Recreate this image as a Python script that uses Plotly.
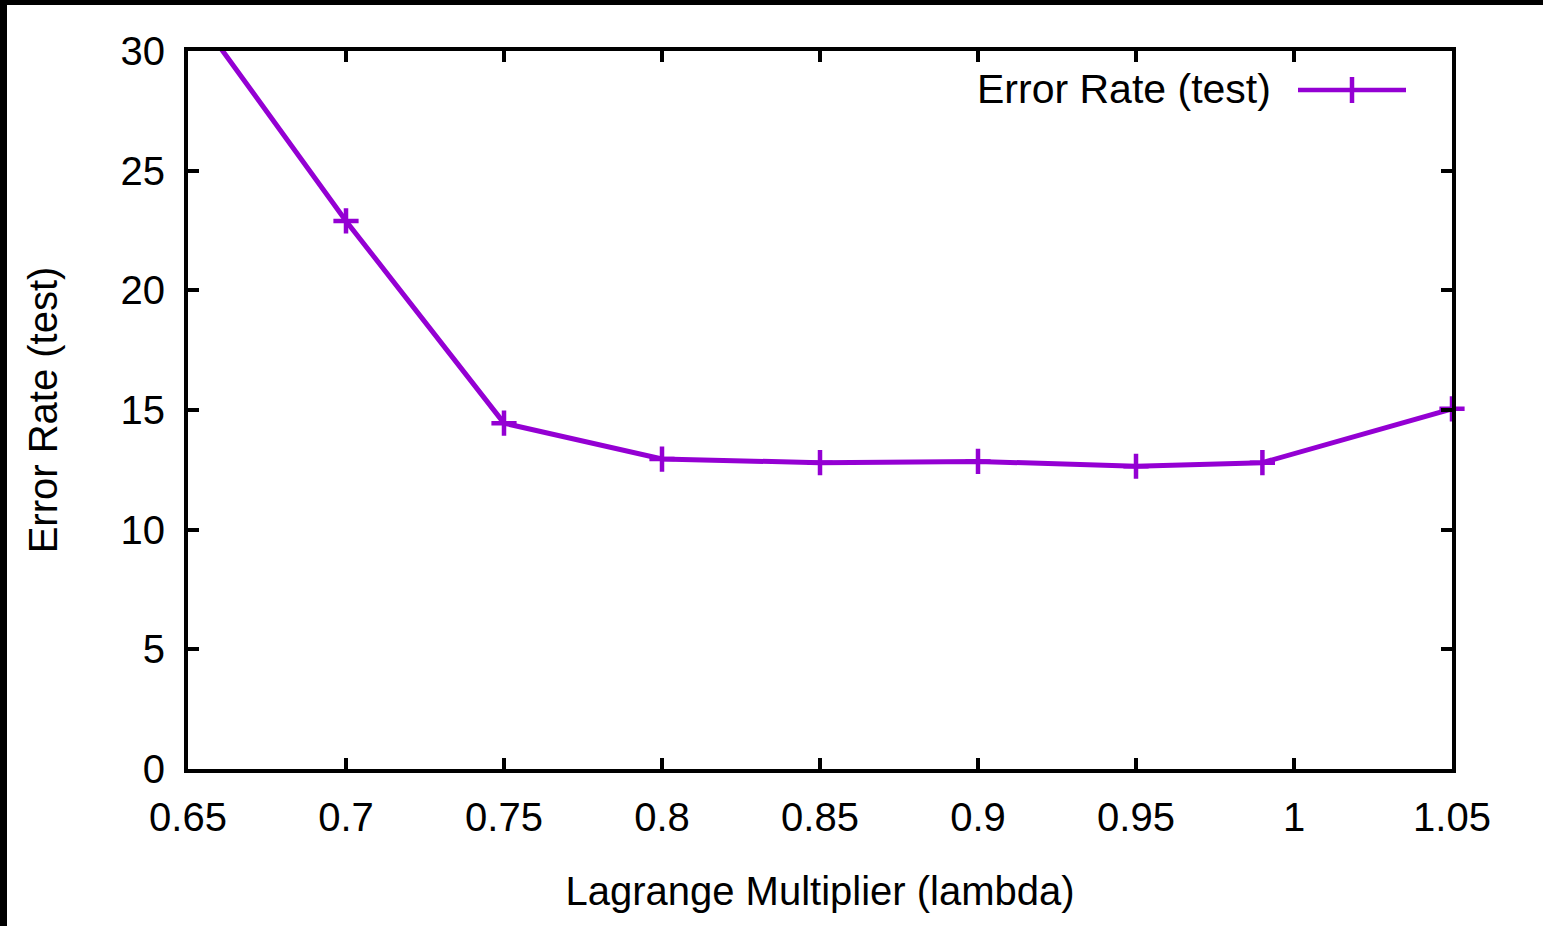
import plotly.graph_objects as go

# Data
lambda_vals = [0.65, 0.70, 0.75, 0.80, 0.85, 0.90, 0.95, 0.99, 1.05]
error_rate = [32.0, 22.9, 14.45, 12.95, 12.8, 12.85, 12.65, 12.8, 15.05]

x_ticks = [0.65, 0.70, 0.75, 0.80, 0.85, 0.90, 0.95, 1.00, 1.05]
x_tick_labels = ["0.65", "0.7", "0.75", "0.8", "0.85", "0.9", "0.95", "1", "1.05"]
y_ticks = [0, 5, 10, 15, 20, 25, 30]
y_tick_labels = ["0", "5", "10", "15", "20", "25", "30"]

series_name = "Error Rate (test)"
x_title = "Lagrange Multiplier (lambda)"
y_title = "Error Rate (test)"

X_RANGE = [0.65, 1.05]
Y_RANGE = [0, 30]

PURPLE = "#9400D3"
FONT = "Liberation Sans, Arial, sans-serif"
W, H = 1543, 926
L, R, T, B = 188, 91, 51, 157
PW, PH = W - L - R, H - T - B

# points inside the visible range get a marker (gnuplot clips out-of-range points)
mx = [x for x, y in zip(lambda_vals, error_rate) if Y_RANGE[0] <= y <= Y_RANGE[1]]
my = [y for x, y in zip(lambda_vals, error_rate) if Y_RANGE[0] <= y <= Y_RANGE[1]]

fig = go.Figure()
fig.add_trace(go.Scatter(
    x=lambda_vals, y=error_rate, mode="lines",
    line=dict(color=PURPLE, width=5), showlegend=False, name=series_name,
))
fig.add_trace(go.Scatter(
    x=mx, y=my, mode="markers", cliponaxis=False,
    marker=dict(symbol="cross-thin", size=18, color=PURPLE,
                line=dict(color=PURPLE, width=4.5)),
    showlegend=False, name=series_name,
))

def px_x(p):
    return (p - L) / PW

def px_y(p):
    return (H - B - p) / PH

shapes = []
# key sample (gnuplot-style: text then line sample)
shapes.append(dict(type="line", xref="paper", yref="paper",
                   x0=px_x(1298), x1=px_x(1406), y0=px_y(90), y1=px_y(90),
                   line=dict(color=PURPLE, width=4.5)))
shapes.append(dict(type="line", xref="paper", yref="paper",
                   x0=px_x(1352), x1=px_x(1352), y0=px_y(77), y1=px_y(103),
                   line=dict(color=PURPLE, width=4.5)))
# dark frame edges of the screenshot
shapes.append(dict(type="rect", xref="paper", yref="paper",
                   x0=px_x(0), x1=px_x(7), y0=px_y(H), y1=px_y(0),
                   fillcolor="black", line=dict(width=0), layer="above"))
shapes.append(dict(type="rect", xref="paper", yref="paper",
                   x0=px_x(0), x1=px_x(W), y0=px_y(5), y1=px_y(0),
                   fillcolor="black", line=dict(width=0), layer="above"))

annotations = [dict(
    text=series_name, xref="paper", yref="paper",
    x=px_x(1273), y=px_y(89), xanchor="right", yanchor="middle",
    showarrow=False, font=dict(family=FONT, size=41, color="black"),
)]

axis_common = dict(
    showline=True, linecolor="black", linewidth=4, mirror="ticks",
    ticks="inside", ticklen=11, tickwidth=4, tickcolor="black",
    showgrid=False, zeroline=False,
    tickfont=dict(family=FONT, size=40, color="black"),
)

fig.update_layout(
    width=W, height=H,
    margin=dict(l=L, r=R, t=T, b=B, autoexpand=False),
    paper_bgcolor="white", plot_bgcolor="white",
    xaxis=dict(range=X_RANGE, tickvals=x_ticks, ticktext=x_tick_labels,
               ticklabelstandoff=10,
               title=dict(text=x_title, font=dict(family=FONT, size=40, color="black"),
                          standoff=40),
               **axis_common),
    yaxis=dict(range=Y_RANGE, tickvals=y_ticks, ticktext=y_tick_labels,
               ticklabelstandoff=11,
               title=dict(text=y_title, font=dict(family=FONT, size=40, color="black"),
                          standoff=52),
               **axis_common),
    shapes=shapes, annotations=annotations, showlegend=False,
)

fig.write_html("out.html")
